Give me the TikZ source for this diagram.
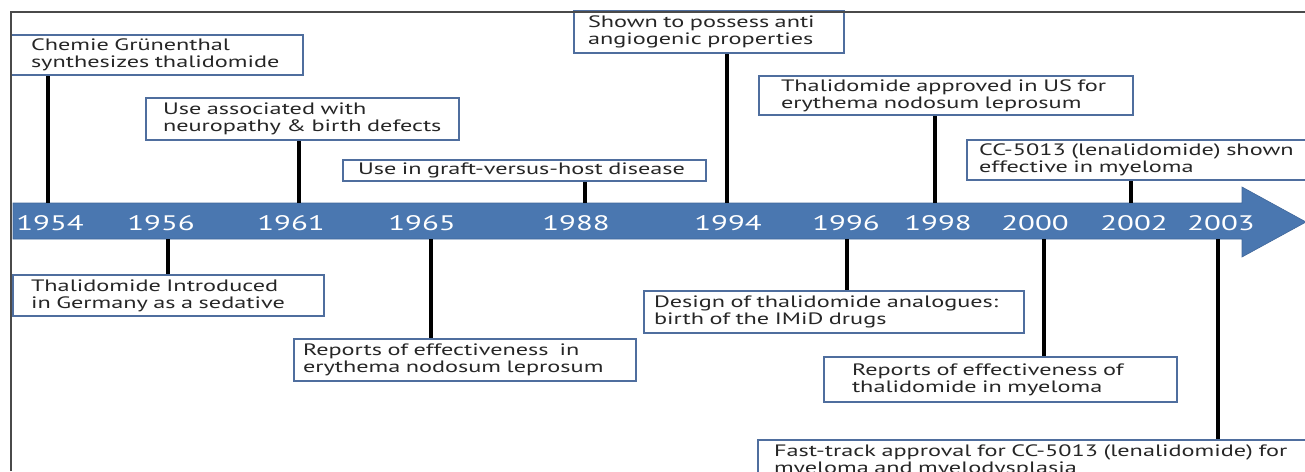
\documentclass[tikz,border=0pt]{standalone}
\usepackage{fontspec}
\setmainfont{PT Sans}[FakeStretch=1.47]
\definecolor{boxc}{HTML}{4F6E9E}
\definecolor{arrowc}{HTML}{4A77B0}
\definecolor{arrowedge}{HTML}{40679A}
\definecolor{txt}{HTML}{262626}
\definecolor{framec}{HTML}{4A4A4A}
\hbadness=10000 \hfuzz=50pt
\begin{document}
\begin{tikzpicture}[x=1pt,y=-1pt,
  evbox/.style={draw=boxc, line width=2pt, fill=white, anchor=north west, align=left,
    inner ysep=0pt, text=txt, font=\fontsize{16.5}{17}\selectfont},
  stem/.style={line width=4pt, draw=black},
  year/.style={text=white, font=\fontsize{21}{24}\selectfont, inner sep=0pt},
  framel/.style={draw=framec, line width=1.5pt}]
\useasboundingbox (0,0) rectangle (1305,471);
\clip (0,0) rectangle (1305,471);
% timeline arrow
\draw[fill=arrowc, draw=arrowedge, line width=0.6pt]
  (13,203) -- (1242,203) -- (1242,187) -- (1306,222) -- (1242,257) -- (1242,239) -- (13,239) -- cycle;
\coordinate (bartop) at (0,203);
\coordinate (barbot) at (0,239);
% years
\node[year] (y1954) at (50,223) {1954};
\node[year] (y1956) at (161,223) {1956};
\node[year] (y1961) at (291,223) {1961};
\node[year] (y1965) at (422,223) {1965};
\node[year] (y1988) at (576,223) {1988};
\node[year] (y1994) at (728,223) {1994};
\node[year] (y1996) at (846,223) {1996};
\node[year] (y1998) at (938,223) {1998};
\node[year] (y2000) at (1035,223) {2000};
\node[year] (y2002) at (1134,223) {2002};
\node[year] (y2003) at (1221,223) {2003};
% event boxes above
\node[evbox, inner xsep=20pt, text width=252pt, minimum height=40pt] (chem) at (10,34)
  {\mbox{Chemie Grünenthal}\\\mbox{synthesizes thalidomide}};
\node[evbox, inner xsep=17pt, text width=279pt, minimum height=42pt] (assoc) at (145,97)
  {\mbox{Use associated with}\\\mbox{neuropathy \& birth defects}};
\node[evbox, inner xsep=15pt, text width=333pt, minimum height=21pt] (graft) at (342,159)
  {\mbox{Use in graft-versus-host disease}};
\node[evbox, inner xsep=14pt, text width=242pt, minimum height=42pt] (shown) at (573,10)
  {\mbox{Shown to possess anti}\\\mbox{angiogenic properties}};
\node[evbox, inner xsep=22pt, text width=330pt, minimum height=39pt] (approved) at (758,75)
  {\mbox{Thalidomide approved in US for}\\\mbox{erythema nodosum leprosum}};
\node[evbox, inner xsep=12pt, text width=330pt, minimum height=40pt] (cc) at (966,139)
  {\mbox{CC-5013 (lenalidomide) shown}\\\mbox{effective in myeloma}};
% event boxes below
\node[evbox, inner xsep=18pt, text width=275pt, minimum height=41pt] (intro) at (12,274)
  {\mbox{Thalidomide Introduced}\\\mbox{in Germany as a sedative}};
\node[evbox, inner xsep=9pt, text width=324pt, minimum height=42pt] (repery) at (293,338)
  {\mbox{Reports of effectiveness~ in}\\\mbox{erythema nodosum leprosum}};
\node[evbox, inner xsep=10pt, text width=360pt, minimum height=42pt] (design) at (643,290)
  {\mbox{Design of thalidomide analogues:}\\\mbox{birth of the IMiD drugs}};
\node[evbox, inner xsep=28pt, text width=297pt, minimum height=45pt] (repmy) at (823,356)
  {\mbox{Reports of effectiveness of}\\\mbox{thalidomide in myeloma}};
\node[evbox, inner xsep=16pt, text width=531pt, minimum height=42pt] (fast) at (757,439)
  {\mbox{Fast-track approval for CC-5013 (lenalidomide) for}\\\mbox{myeloma and myelodysplasia}};
% stems
\coordinate (s1954) at (48,0);
\coordinate (s1961) at (299,0);
\coordinate (s1988) at (585,0);
\coordinate (s1994) at (727,0);
\coordinate (s1998) at (935,0);
\coordinate (s2002) at (1131,0);
\coordinate (s1956) at (168,0);
\coordinate (s1965) at (431,0);
\coordinate (s1996) at (847,0);
\coordinate (s2000) at (1044,0);
\coordinate (s2003) at (1218,0);
\draw[stem] (s1954 |- chem.south) -- (s1954 |- bartop);
\draw[stem] (s1961 |- assoc.south) -- (s1961 |- bartop);
\draw[stem] (s1988 |- graft.south) -- (s1988 |- bartop);
\draw[stem] (s1994 |- shown.south) -- (s1994 |- bartop);
\draw[stem] (s1998 |- approved.south) -- (s1998 |- bartop);
\draw[stem] (s2002 |- cc.south) -- (s2002 |- bartop);
\draw[stem] (s1956 |- barbot) -- (s1956 |- intro.north);
\draw[stem] (s1965 |- barbot) -- (s1965 |- repery.north);
\draw[stem] (s1996 |- barbot) -- (s1996 |- design.north);
\draw[stem] (s2000 |- barbot) -- (s2000 |- repmy.north);
\draw[stem] (s2003 |- barbot) -- (s2003 |- fast.north);
% outer frame
\draw[framel] (11,471) -- (11,12) -- (1305,12);
\end{tikzpicture}
\end{document}
